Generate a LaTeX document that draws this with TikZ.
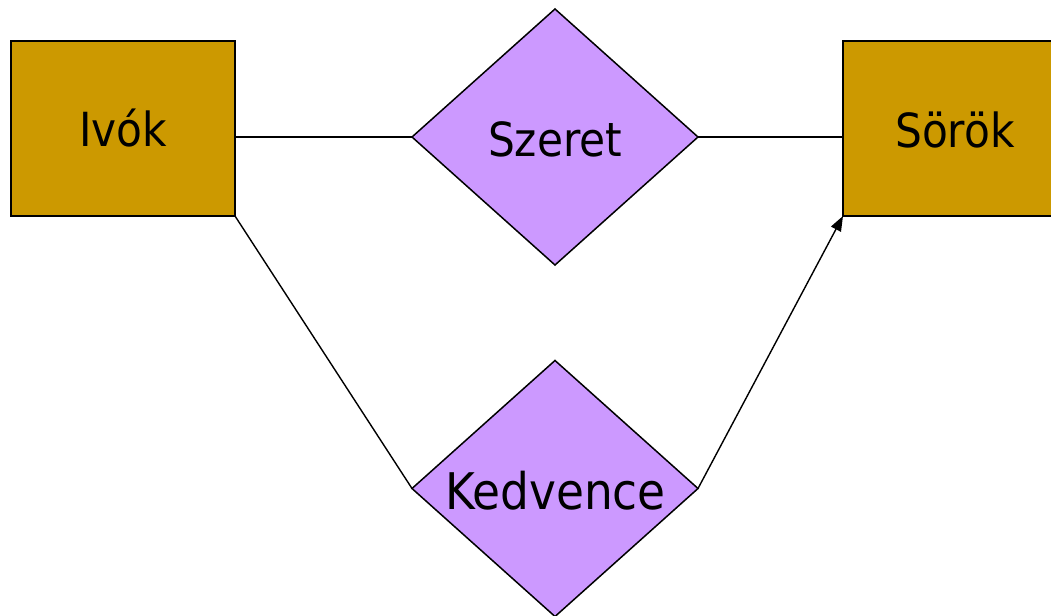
\documentclass[tikz,border=0pt]{standalone}
\usepackage{fontspec}
\setmainfont{DejaVu Sans Condensed}
\usetikzlibrary{shapes.geometric,arrows.meta}
\definecolor{entgold}{HTML}{CC9900}
\definecolor{relviolet}{HTML}{CC99FF}
\tikzset{
  entity/.style={rectangle, draw=black, fill=entgold, line width=2.2bp, minimum width=224bp, minimum height=175bp, inner sep=0pt, outer sep=0pt},
  relship/.style={diamond, draw=black, fill=relviolet, line width=1.5bp, minimum width=286bp, minimum height=256bp, inner sep=0pt, outer sep=0pt},
  lbl/.style={anchor=base, inner sep=0pt, font=\fontsize{47bp}{50bp}\selectfont},
  biglbl/.style={anchor=base, inner sep=0pt, font=\fontsize{50.5bp}{54bp}\selectfont},
  thick line/.style={line width=2.2bp},
  thin line/.style={line width=1.4bp},
}
\begin{document}
\begin{tikzpicture}[x=1bp,y=-1bp]
\useasboundingbox (0,0) rectangle (1051,616);
\clip (0,0) rectangle (1051,616);
\fill[white] (0,0) rectangle (1051,616);
\node[entity] (ivok) at (123,128.5) {};
\node[entity] (sorok) at (955,128.5) {};
\node[relship] (szeret) at (555,137) {};
\node[relship] (kedv) at (555,488.5) {};
\node[lbl] (tivok) at (123,147) {Ivók};
\node[lbl] (tsorok) at (955,148) {Sörök};
\node[lbl] (tszeret) at (555,157) {Szeret};
\node[biglbl] (tkedv) at (555.5,509) {Kedvence};
\draw[thick line] (szeret.west) -- (szeret.west -| ivok.east);
\draw[thick line] (szeret.east) -- (szeret.east -| sorok.west);
\draw[thin line] (ivok.south east) -- (kedv.west);
\draw[thin line, -{Triangle[length=15bp,width=11bp]}] (kedv.east) -- (sorok.south west);
\end{tikzpicture}
\end{document}
